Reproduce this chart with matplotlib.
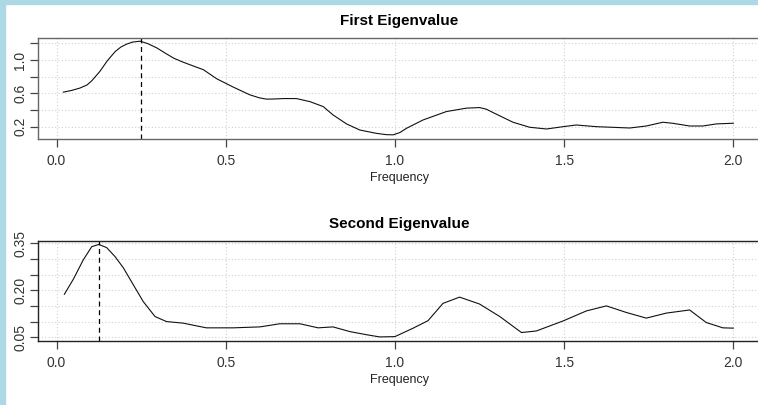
import matplotlib
matplotlib.use('Agg')
import matplotlib.pyplot as plt
from matplotlib.patches import Rectangle

plt.rcParams['font.family'] = ['Liberation Sans', 'DejaVu Sans']

# first eigenvalue spectrum
freq1 = [0.02, 0.045, 0.069, 0.09, 0.104, 0.128, 0.15, 0.173, 0.19, 0.207, 0.225, 0.247,
         0.27, 0.296, 0.32, 0.345, 0.37, 0.394, 0.434, 0.473, 0.522, 0.571, 0.6,
         0.621, 0.645, 0.670, 0.709, 0.749, 0.788, 0.817, 0.857, 0.896, 0.945, 0.975,
         0.995, 1.015, 1.034, 1.083, 1.152, 1.211, 1.25, 1.27, 1.29, 1.32, 1.349, 1.398,
         1.448, 1.497, 1.536, 1.595, 1.694, 1.743, 1.792, 1.822, 1.871, 1.91, 1.95, 2.0]
eig1 = [0.614, 0.635, 0.663, 0.70, 0.75, 0.863, 0.99, 1.10, 1.155, 1.19, 1.215, 1.225,
        1.195, 1.145, 1.085, 1.024, 0.98, 0.943, 0.883, 0.775, 0.675, 0.582, 0.545,
        0.530, 0.532, 0.537, 0.537, 0.50, 0.441, 0.341, 0.233, 0.16, 0.12, 0.104,
        0.102, 0.13, 0.18, 0.28, 0.381, 0.422, 0.429, 0.41, 0.369, 0.31, 0.253, 0.193,
        0.172, 0.2, 0.22, 0.2, 0.184, 0.208, 0.253, 0.24, 0.208, 0.208, 0.233, 0.241]
peak1 = 0.25

# second eigenvalue spectrum
freq2 = [0.023, 0.05, 0.079, 0.104, 0.125, 0.148, 0.173, 0.197, 0.227, 0.256,
         0.291, 0.325, 0.374, 0.424, 0.443, 0.522, 0.601, 0.660, 0.719, 0.773,
         0.817, 0.867, 0.916, 0.955, 1.0, 1.054, 1.098, 1.142, 1.191, 1.25,
         1.31, 1.374, 1.418, 1.497, 1.566, 1.625, 1.684, 1.743, 1.802, 1.871,
         1.92, 1.969, 2.0]
eig2 = [0.187, 0.236, 0.297, 0.339, 0.346, 0.336, 0.307, 0.272, 0.217, 0.164,
        0.116, 0.10, 0.095, 0.084, 0.08, 0.08, 0.083, 0.093, 0.093, 0.08,
        0.083, 0.068, 0.058, 0.051, 0.052, 0.079, 0.103, 0.158, 0.178, 0.156,
        0.116, 0.065, 0.07, 0.102, 0.134, 0.15, 0.129, 0.111, 0.127, 0.137,
        0.097, 0.08, 0.079]
peak2 = 0.125

xticks = [0.0, 0.5, 1.0, 1.5, 2.0]
yticks1 = [0.2, 0.4, 0.6, 0.8, 1.0, 1.2]
ylabels1 = ['0.2', '', '0.6', '', '1.0', '']
yticks2 = [0.05, 0.10, 0.15, 0.20, 0.25, 0.30, 0.35]
ylabels2 = ['0.05', '', '', '0.20', '', '', '0.35']

W, H = 758, 405
fig = plt.figure(figsize=(W / 100, H / 100), dpi=100)

# light blue frame strips at left/top
fig.patches.append(Rectangle((0, 0), 5 / W, 1, transform=fig.transFigure,
                             color='#add8e6', zorder=0))
fig.patches.append(Rectangle((0, 1 - 4 / H), 1, 4 / H, transform=fig.transFigure,
                             color='#add8e6', zorder=0))


def panel(rect, x, y, peak, yt, ylab, ylim, title, boxcol):
    ax = fig.add_axes(rect)
    ax.plot(x, y, color='#111111', lw=0.8)
    ax.axvline(peak, color='black', lw=0.9, ls=(0, (4, 3)))
    ax.set_xlim(-0.054, 2.079)
    ax.set_ylim(*ylim)
    ax.set_xticks(xticks)
    ax.set_xticklabels([f'{t:.1f}' for t in xticks])
    ax.set_yticks(yt)
    ax.set_yticklabels(ylab, rotation=90, va='center')
    ax.grid(True, color='#d0d0d0', ls=(0, (1, 2)), lw=0.8)
    for s in ax.spines.values():
        s.set_color(boxcol)
        s.set_linewidth(1.0)
    ax.tick_params(length=6, width=0.9, color='#444444', labelcolor='#333333',
                   labelsize=10)
    ax.tick_params(axis='x', pad=5)
    ax.tick_params(axis='y', pad=2)
    ax.set_xlabel('Frequency', fontsize=9, color='#222222', labelpad=3)
    ax.set_title(title, fontsize=11, fontweight='bold', pad=9)
    return ax


panel([38.3 / W, 1 - 139 / H, (760 - 38.3) / W, (139 - 37.7) / H],
      freq1, eig1, peak1, yticks1, ylabels1, (0.052, 1.267),
      'First Eigenvalue', '#666666')
panel([38.3 / W, 1 - 341 / H, (760 - 38.3) / W, (341 - 240.7) / H],
      freq2, eig2, peak2, yticks2, ylabels2, (0.038, 0.358),
      'Second Eigenvalue', '#222222')

fig.savefig('out.png', dpi=100)
